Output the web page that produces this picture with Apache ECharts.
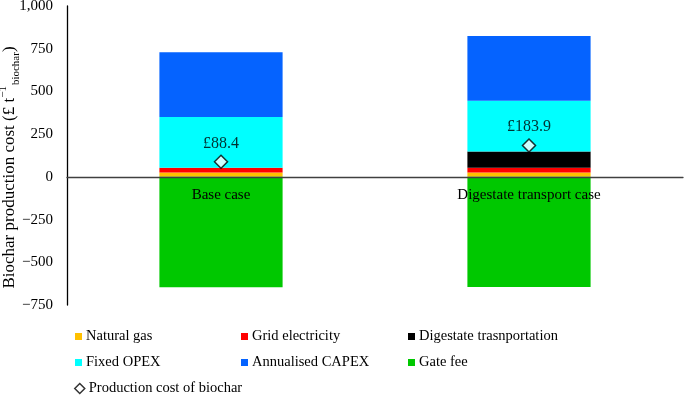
<!DOCTYPE html>
<html>
<head>
<meta charset="utf-8">
<script src="https://cdn.jsdelivr.net/npm/echarts@6/dist/echarts.min.js"></script>
<style>
  html, body { margin: 0; padding: 0; background: #fff; }
  #chart { width: 685px; height: 395px; }
</style>
</head>
<body>
<div id="chart"></div>
<script>
// values (£ per tonne biochar)
var cases = ['Base case', 'Digestate transport case']
var naturalGas = [25, 25]
var gridElectricity = [28, 29]
var digestateTransport = [0, 94]
var fixedOpex = [298, 298]
var annualisedCapex = [379, 379]
var gateFee = [-646, -645]
var productionCost = [88.4, 183.9]
var yTicks = [-750, -500, -250, 0, 250, 500, 750, 1000]

var FONT = "'Liberation Serif', 'Times New Roman', serif"
var GRID_TOP = 6, GRID_BOTTOM = 90, H = 395

var chart = echarts.init(document.getElementById('chart'))

function barSeries(name, data, color) {
    return {
        name: name,
        type: 'bar',
        stack: 'cost',
        data: data,
        barWidth: '40%',
        itemStyle: { color: color },
        emphasis: { disabled: true }
    }
}

function fmtTick(v) {
    var s = Math.abs(v).toLocaleString('en-US')
    return v < 0 ? '\u2212' + s : s
}

// one legend per entry so the 3-column grid of the figure can be kept
var legendSlots = [
    ['Natural gas', 75, 337],
    ['Grid electricity', 241, 337],
    ['Digestate trasnportation', 408, 337],
    ['Fixed OPEX', 75, 363],
    ['Annualised CAPEX', 241, 363],
    ['Gate fee', 408, 363],
    ['Production cost of biochar', 74, 389]
]
var legends = legendSlots.map(function (s) {
    var diamond = s[0] === 'Production cost of biochar'
    return {
        data: [diamond
            ? { name: s[0], icon: 'diamond', itemStyle: { color: '#fff', borderColor: '#000', borderWidth: 1.5 } }
            : { name: s[0], icon: 'rect' }],
        left: s[1],
        top: s[2] - 8,
        padding: 0,
        itemWidth: diamond ? 10 : 7,
        itemHeight: diamond ? 10 : 7,
        selectedMode: false,
        textStyle: { fontFamily: FONT, fontSize: 14.5, color: '#000', padding: [0, 0, 0, -1] }
    }
})

// x axis sits on the zero line, labels included
var gridH = H - GRID_TOP - GRID_BOTTOM
var zeroOffset = -gridH * (0 - yTicks[0]) / (yTicks[yTicks.length - 1] - yTicks[0])

var option = {
    animation: false,
    textStyle: { fontFamily: FONT },
    grid: { left: 67, right: 2, top: GRID_TOP, bottom: GRID_BOTTOM, containLabel: false, outerBoundsMode: 'none' },
    legend: legends,
    xAxis: {
        type: 'category',
        data: cases,
        offset: zeroOffset,
        axisTick: { show: false },
        axisLine: { onZero: false, lineStyle: { color: '#404040', width: 1.3 } },
        axisLabel: { fontFamily: FONT, fontSize: 15, color: '#000', margin: 11 },
        z: 5
    },
    yAxis: {
        type: 'value',
        min: yTicks[0],
        max: yTicks[yTicks.length - 1],
        interval: 250,
        splitLine: { show: false },
        axisTick: { show: false },
        axisLine: { show: true, lineStyle: { color: '#000', width: 1.3 } },
        axisLabel: { fontFamily: FONT, fontSize: 15, color: '#000', margin: 14, formatter: fmtTick },
        name: '{a|Biochar production cost (£ t}{sup|\u22121}{sub|biochar}{a|)}',
        nameLocation: 'middle',
        nameGap: 45,
        nameMoveOverlap: false,
        nameTextStyle: {
            padding: [0, 24, 0, 0],
            rich: {
                a: { fontFamily: FONT, fontSize: 17, color: '#000', lineHeight: 24 },
                sup: { fontFamily: FONT, fontSize: 11, color: '#000', verticalAlign: 'top', lineHeight: 24, padding: [0, 1, 0, 0] },
                sub: { fontFamily: FONT, fontSize: 11, color: '#000', verticalAlign: 'bottom', lineHeight: 24 }
            }
        }
    },
    series: [
        barSeries('Natural gas', naturalGas, '#FFC000'),
        barSeries('Grid electricity', gridElectricity, '#FF0000'),
        barSeries('Digestate trasnportation', digestateTransport, '#000000'),
        barSeries('Fixed OPEX', fixedOpex, '#00FFFF'),
        barSeries('Annualised CAPEX', annualisedCapex, '#0563FF'),
        barSeries('Gate fee', gateFee, '#00C800'),
        {
            name: 'Production cost of biochar',
            type: 'scatter',
            data: productionCost,
            symbol: 'diamond',
            symbolSize: 13,
            z: 10,
            itemStyle: { color: '#fff', borderColor: '#000', borderWidth: 1.5 },
            label: {
                show: true,
                position: 'top',
                distance: 3,
                fontFamily: FONT,
                fontSize: 16,
                color: '#000',
                formatter: function (p) { return '£' + p.value.toFixed(1) }
            },
            emphasis: { disabled: true }
        }
    ]
}

chart.setOption(option)
</script>
</body>
</html>
